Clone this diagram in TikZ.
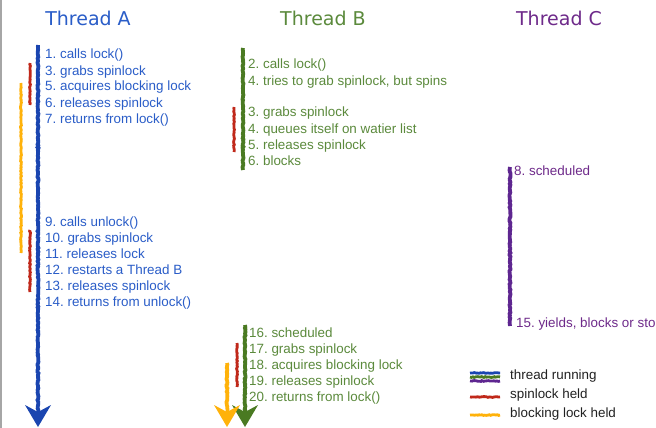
\documentclass[tikz,border=0pt]{standalone}
\usepackage{fontspec}
\setmainfont{Liberation Sans}
\newfontfamily\titlefont{DejaVu Sans}
\usetikzlibrary{decorations.pathmorphing}
\frenchspacing
\definecolor{ablue}{HTML}{2A5DC8}
\definecolor{lblue}{HTML}{1A45B0}
\definecolor{bgreen}{HTML}{5B8A3C}
\definecolor{lgreen}{HTML}{4A7A22}
\definecolor{cpurple}{HTML}{6E2A8A}
\definecolor{lpurple}{HTML}{5E2690}
\definecolor{lred}{HTML}{C0281A}
\definecolor{lorange}{HTML}{FFB20A}
\definecolor{legtext}{HTML}{222222}
\newcommand\arrhead[3]{\fill[#1] (#2,#3) -- ++(-13,-22) -- ++(13,7) -- ++(13,-7) -- cycle;}
\begin{document}
\begin{tikzpicture}[x=1pt,y=-1pt,
  crayon/.style={line width=3.8pt, decorate, decoration={random steps,segment length=1.5pt,amplitude=0.5pt}},
  thin crayon/.style={line width=2.8pt, decorate, decoration={random steps,segment length=1.5pt,amplitude=0.45pt}},
  txt/.style={anchor=base west, inner sep=0pt, font=\fontsize{13.4}{16}\selectfont},
  ttl/.style={anchor=base, inner sep=0pt, font=\titlefont\fontsize{19}{22}\selectfont}]
\useasboundingbox (0,0) rectangle (656,428);
\fill[white] (0,0) rectangle (656,428);
\draw[gray!70, line width=1.5pt] (0.75,0) -- (0.75,428);

% titles
\node[ttl, text=ablue] (tA) at (88,26) {Thread A};
\node[ttl, text=bgreen] (tB) at (323,26) {Thread B};
\node[ttl, text=cpurple] (tC) at (559,26) {Thread C};

% Thread A bars
\draw[crayon, lblue] (38,45) -- (38,414);
\arrhead{lblue}{38}{427}
\draw[thin crayon, lred] (30,63) -- (30,105);
\draw[thin crayon, lred] (30,230) -- (30,292);
\draw[thin crayon, lorange] (21,83) -- (21,253);

% Thread A text
\begin{scope}[every node/.style={txt, text=ablue}]
\node (a1) at (45,59) {1. calls lock()};
\node (a3) at (45,75) {3. grabs spinlock};
\node (a5) at (45,91) {5. acquires blocking lock};
\node (a6) at (45,107) {6. releases spinlock};
\node (a7) at (45,123) {7. returns from lock()};
\node (a9) at (45,226) {9. calls unlock()};
\node (a10) at (45,242) {10. grabs spinlock};
\node (a11) at (45,258) {11. releases lock};
\node (a12) at (45,274) {12. restarts a Thread B};
\node (a13) at (45,290) {13. releases spinlock};
\node (a14) at (45,306) {14. returns from unlock()};
\end{scope}

% Thread B bars
\draw[crayon, lgreen] (243,48) -- (243,170);
\draw[thin crayon, lred] (234,107) -- (234,152);
\draw[crayon, lgreen] (245,325) -- (245,414);
\arrhead{lgreen}{245}{427}
\draw[thin crayon, lred] (237,343) -- (237,387);
\draw[crayon, lorange] (227,363) -- (227,414);
\arrhead{lorange}{227}{427}

% Thread B text
\begin{scope}[every node/.style={txt, text=bgreen}]
\node (b2) at (248,69) {2. calls lock()};
\node (b4) at (248,85) {4. tries to grab spinlock, but spins};
\node (b3) at (248,117) {3. grabs spinlock};
\node (b4b) at (248,133) {4. queues itself on watier list};
\node (b5) at (248,149) {5. releases spinlock};
\node (b6) at (248,165) {6. blocks};
\node (b16) at (249,337) {16. scheduled};
\node (b17) at (249,353) {17. grabs spinlock};
\node (b18) at (249,369) {18. acquires blocking lock};
\node (b19) at (249,385) {19. releases spinlock};
\node (b20) at (249,401) {20. returns from lock()};
\end{scope}

% Thread C
\draw[crayon, lpurple] (510,167) -- (510,326);
\begin{scope}[every node/.style={txt, text=cpurple}]
\node (c8) at (514,175) {8. scheduled};
\node (c15) at (516,327) {15. yields, blocks or sto};
\end{scope}

% legend
\draw[thin crayon, lblue] (470,373) -- (500,373);
\draw[thin crayon, lgreen] (470,377) -- (500,377);
\draw[thin crayon, lpurple] (470,381) -- (500,381);
\draw[thin crayon, lred] (470,397) -- (500,397);
\draw[thin crayon, lorange] (470,415) -- (500,415);
\begin{scope}[every node/.style={txt, text=legtext}]
\node (l1) at (510,379) {thread running};
\node (l2) at (510,398) {spinlock held};
\node (l3) at (510,417) {blocking lock held};
\end{scope}
\end{tikzpicture}
\end{document}
